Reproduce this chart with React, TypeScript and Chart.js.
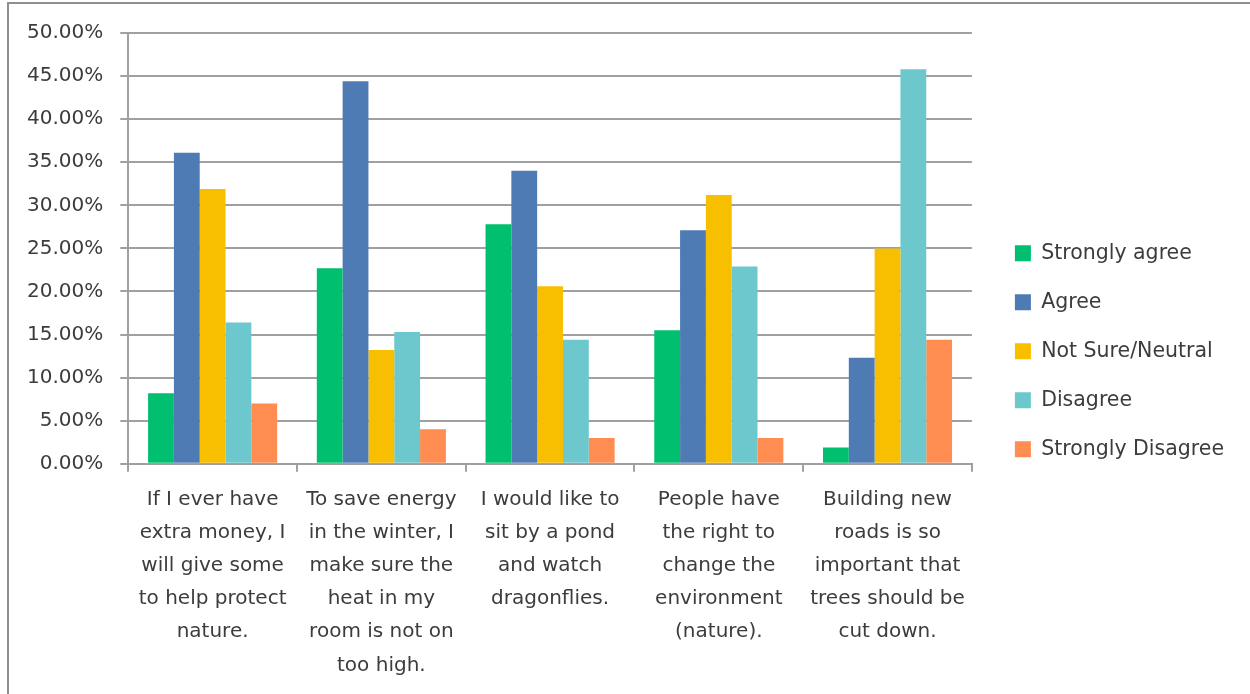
import React, { useEffect, useRef } from 'react';
import { Chart, registerables } from 'chart.js';

Chart.register(...registerables);

const categories: string[][] = [
  ['If I ever have', 'extra money, I', 'will give some', 'to help protect', 'nature.'],
  ['To save energy', 'in the winter, I', 'make sure the', 'heat in my', 'room is not on', 'too high.'],
  ['I would like to', 'sit by a pond', 'and watch', 'dragonflies.'],
  ['People have', 'the right to', 'change the', 'environment', '(nature).'],
  ['Building new', 'roads is so', 'important that', 'trees should be', 'cut down.'],
];

const seriesNames = ['Strongly agree', 'Agree', 'Not Sure/Neutral', 'Disagree', 'Strongly Disagree'];

const stronglyAgree = [8.2, 22.7, 27.8, 15.5, 1.9];
const agree = [36.1, 44.4, 34.0, 27.1, 12.3];
const notSure = [31.9, 13.2, 20.6, 31.2, 25.0];
const disagree = [16.4, 15.3, 14.4, 22.9, 45.8];
const stronglyDisagree = [7.0, 4.0, 3.0, 3.0, 14.4];

const yTickValues = [0, 5, 10, 15, 20, 25, 30, 35, 40, 45, 50];

const seriesColors = ['#00BF6F', '#4F7BB5', '#F8BE00', '#6CC8CC', '#FF8C50'];

const FONT = "'DejaVu Sans', 'Liberation Sans', sans-serif";
const TEXT = '#3c3c3c';
const GRID = '#a0a0a0';

const LEGEND_DX = 14.5;
const LEGEND_DY = -11;

const legendShift = {
  id: 'legendShift',
  beforeUpdate(chart: any) {
    const lg = chart.legend;
    if (lg && !lg.__patched) {
      const origFit = lg.fit.bind(lg);
      lg.fit = function () {
        origFit();
        this.width += LEGEND_DX;
      };
      const origDraw = lg.draw.bind(lg);
      lg.draw = function () {
        const ctx = chart.ctx;
        ctx.save();
        ctx.translate(LEGEND_DX, LEGEND_DY);
        origDraw();
        ctx.restore();
      };
      lg.__patched = true;
    }
  },
};

export default function App() {
  const ref = useRef<HTMLCanvasElement | null>(null);

  useEffect(() => {
    if (!ref.current) return;
    const seriesValues = [stronglyAgree, agree, notSure, disagree, stronglyDisagree];
    const chart = new Chart(ref.current, {
      type: 'bar',
      data: {
        labels: categories,
        datasets: seriesNames.map((name, i) => ({
          label: name,
          data: seriesValues[i],
          backgroundColor: seriesColors[i],
          borderWidth: 0,
          categoryPercentage: 0.765,
          barPercentage: 1.0,
        })),
      },
      options: {
        responsive: false,
        animation: false,
        layout: { padding: { left: 1, top: 27.5, right: 16, bottom: 1 } },
        plugins: {
          tooltip: { enabled: false },
          legend: {
            position: 'right',
            align: 'center',
            labels: {
              boxWidth: 16,
              boxHeight: 16,
              padding: 28.5,
              color: TEXT,
              font: { family: FONT, size: 20.5 },
            },
          },
        },
        scales: {
          x: {
            grid: {
              display: true,
              drawOnChartArea: false,
              drawTicks: true,
              tickLength: 8,
              color: GRID,
              lineWidth: 2,
              offset: true,
            },
            border: { display: true, color: GRID, width: 2 },
            ticks: {
              color: TEXT,
              font: { family: FONT, size: 20, lineHeight: 1.66 },
              padding: 11,
              maxRotation: 0,
              minRotation: 0,
              autoSkip: false,
            },
          },
          y: {
            min: 0,
            max: 50,
            afterBuildTicks: (scale: any) => {
              scale.ticks = yTickValues.map((v) => ({ value: v }));
            },
            grid: {
              display: true,
              drawOnChartArea: true,
              drawTicks: true,
              tickLength: 8,
              color: GRID,
              lineWidth: 2,
            },
            border: { display: true, color: GRID, width: 2 },
            ticks: {
              color: TEXT,
              font: { family: FONT, size: 20 },
              padding: 17,
              callback: (v: any) => Number(v).toFixed(2) + '%',
            },
          },
        },
      },
      plugins: [legendShift],
    } as any);
    return () => chart.destroy();
  }, []);

  return (
    <div style={{ position: 'absolute', left: 0, top: 0, width: 1250, height: 694, overflow: 'hidden', background: '#fff' }}>
      <div
        style={{
          position: 'absolute',
          left: 7,
          top: 2,
          width: 1400,
          height: 900,
          borderLeft: '2px solid #8f8f8f',
          borderTop: '2px solid #8f8f8f',
        }}
      />
      <canvas
        ref={ref}
        width={1241}
        height={690}
        style={{ position: 'absolute', left: 9, top: 4, width: 1241, height: 690, display: 'block' }}
      />
    </div>
  );
}
